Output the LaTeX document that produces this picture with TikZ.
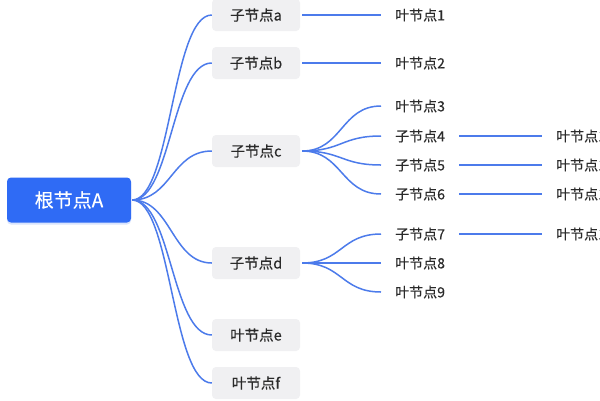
\documentclass[tikz,border=0pt]{standalone}
\usepackage{fontspec}
\setmainfont{Noto Sans CJK SC}[FakeBold=0.4]
\usetikzlibrary{shadows}
\definecolor{rootblue}{HTML}{2F6BF5}
\definecolor{linkblue}{HTML}{4C7BEB}
\definecolor{boxgray}{HTML}{F0F0F2}
\definecolor{txt}{HTML}{2A2A2A}
\begin{document}
\begin{tikzpicture}[x=1pt,y=-1pt,
  rootbox/.style={fill=rootblue, rounded corners=4pt, minimum width=124pt, minimum height=45pt,
    text=white, font=\fontsize{19}{21}\selectfont, inner sep=0pt,
    drop shadow={opacity=0.18, shadow xshift=0pt, shadow yshift=-2pt, fill=rootblue}},
  childbox/.style={fill=boxgray, rounded corners=4pt, minimum width=88pt, minimum height=32pt,
    text=txt, font=\fontsize{14.5}{16}\selectfont, inner sep=0pt},
  leaftext/.style={text=txt, font=\fontsize{14}{16}\selectfont, inner xsep=14pt, inner ysep=2pt, anchor=west},
  link/.style={draw=linkblue, line width=1.5pt},
]
\useasboundingbox (0,0) rectangle (600,400);
\fill[white] (0,0) rectangle (600,400);

\node[rootbox] (root) at (69,200) {根节点A};

\node[childbox] (ca) at (256,15) {子节点a};
\node[childbox] (cb) at (256,63) {子节点b};
\node[childbox] (cc) at (256,151) {子节点c};
\node[childbox] (cd) at (256,263) {子节点d};
\node[childbox] (ce) at (256,335) {叶节点e};
\node[childbox] (cf) at (256,383) {叶节点f};

\node[leaftext] (l1) at (381,15) {叶节点1};
\node[leaftext] (l2) at (381,63) {叶节点2};
\node[leaftext] (l3) at (381,106) {叶节点3};
\node[leaftext] (s4) at (381,136) {子节点4};
\node[leaftext] (s5) at (381,165) {子节点5};
\node[leaftext] (s6) at (381,194) {子节点6};
\node[leaftext] (s7) at (381,234) {子节点7};
\node[leaftext] (l8) at (381,263) {叶节点8};
\node[leaftext] (l9) at (381,292) {叶节点9};

\node[leaftext] (t4) at (542,136) {叶节点10};
\node[leaftext] (t5) at (542,165) {叶节点11};
\node[leaftext] (t6) at (542,194) {叶节点12};
\node[leaftext] (t7) at (542,234) {叶节点13};

% root to children
\foreach \c in {ca,cb,cc,cd,ce,cf}{
  \draw[link] ([xshift=1pt]root.east) .. controls ([xshift=40pt]root.east) and ([xshift=-40pt]\c.west) .. (\c.west);
}
% c to its children
\foreach \c in {l3,s4,s5,s6}{
  \draw[link] ([xshift=2pt]cc.east) .. controls ([xshift=42pt]cc.east) and ([xshift=-40pt]\c.west) .. (\c.west);
}
% d to its children
\foreach \c in {s7,l8,l9}{
  \draw[link] ([xshift=2pt]cd.east) .. controls ([xshift=42pt]cd.east) and ([xshift=-40pt]\c.west) .. (\c.west);
}
% straight links
\draw[link] ([xshift=2pt]ca.east) -- (l1.west);
\draw[link] ([xshift=2pt]cb.east) -- (l2.west);
\draw[link] (s4.east) -- (t4.west);
\draw[link] (s5.east) -- (t5.west);
\draw[link] (s6.east) -- (t6.west);
\draw[link] (s7.east) -- (t7.west);
\end{tikzpicture}
\end{document}
